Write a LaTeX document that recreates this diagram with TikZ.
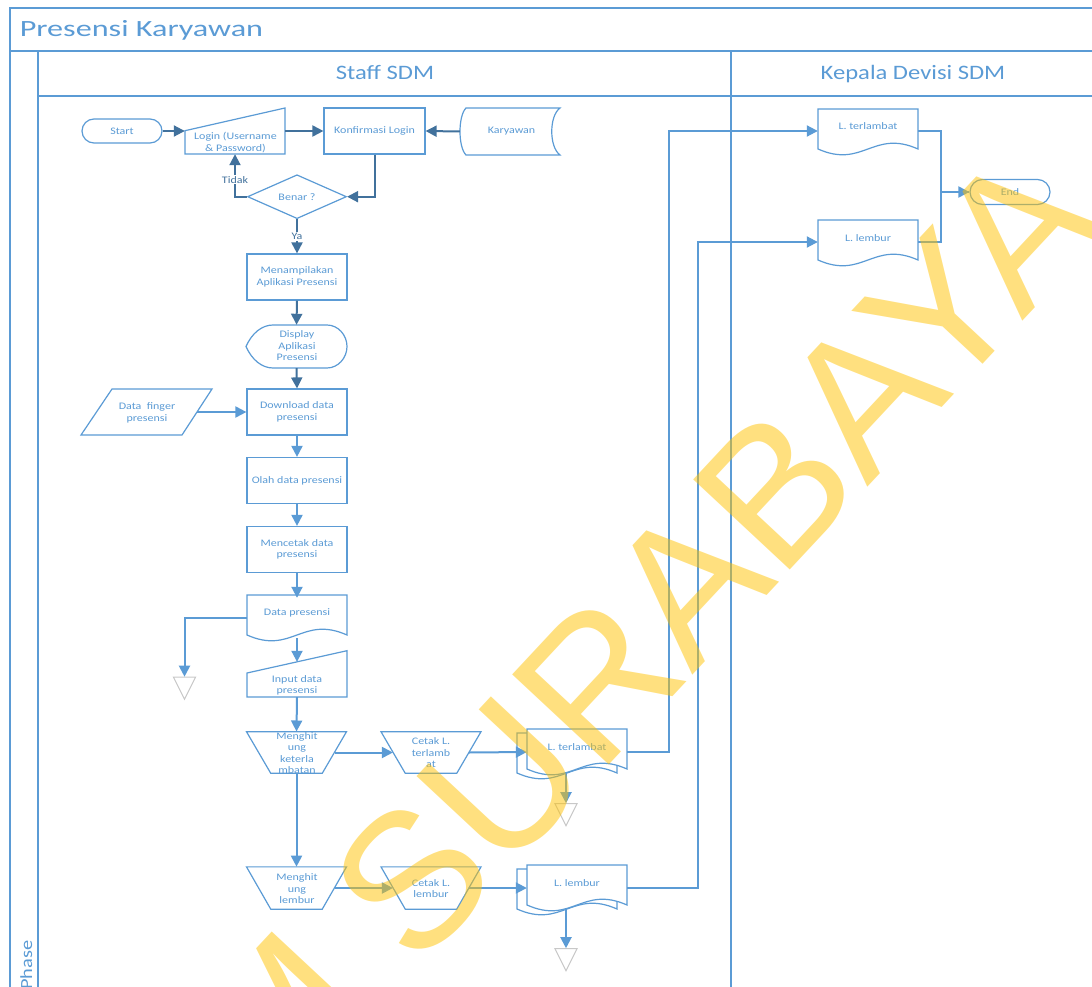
\documentclass[tikz,border=0pt]{standalone}
\usepackage{fontspec}
\setmainfont{Carlito}[FakeStretch=1.2]
\newfontfamily\ttlfont{Carlito}[FakeStretch=1.38]
\newfontfamily\wmfont{Liberation Sans}
\usetikzlibrary{arrows.meta,shapes.geometric,shapes.misc}
\definecolor{cBlue}{HTML}{5B9BD5}
\definecolor{cDark}{HTML}{41719C}
\definecolor{cGray}{HTML}{C8C8C8}
\definecolor{cWM}{RGB}{255,193,0}
\newcommand{\docshp}[4]{\draw[shp] ({#1},{#2}) -- ({#3},{#2}) -- ({#3},{#4}) .. controls ({(#3)-0.45*((#3)-(#1))},{(#4)-20}) and ({(#1)+0.45*((#3)-(#1))},{(#4)+20}) .. ({#1},{#4}) -- cycle;}
\newcommand{\mdoc}[2]{\docshp{(#1)-10}{(#2)+4}{(#1)+90}{(#2)+44}\docshp{#1}{#2}{(#1)+100}{(#2)+40}}
\newcommand{\trapshp}[3]{\draw[shp] ({(#1)-50},{(#2)-(#3)}) -- ({(#1)+50},{(#2)-(#3)}) -- ({(#1)+25.75},{(#2)+(#3)}) -- ({(#1)-25.75},{(#2)+(#3)}) -- cycle;}
\begin{document}
\begin{tikzpicture}[x=1pt,y=-1pt,
  shp/.style={draw=cBlue, line width=1.2pt, fill=white},
  box/.style={shp, rectangle, minimum width=100, minimum height=46, inner sep=1pt, text=cBlue, font=\fontsize{10}{11.5}\selectfont, align=center},
  anch/.style={rectangle, draw=none, fill=none, inner sep=0, minimum width=100, minimum height=40},
  lbl/.style={text=cBlue, font=\fontsize{10}{11.5}\selectfont, align=center, inner sep=0},
  term/.style={shp, rounded rectangle, minimum width=80, minimum height=24, inner sep=0, text=cBlue, font=\fontsize{10}{11.5}\selectfont},
  offp/.style={draw=cGray, line width=1pt, fill=white, isosceles triangle, isosceles triangle stretches, shape border rotate=-90, minimum width=22, minimum height=22, inner sep=0},
  dconn/.style={draw=cDark, line width=2pt, -{Triangle[length=11pt,width=11pt]}},
  lconn/.style={draw=cBlue, line width=2pt, -{Triangle[length=11pt,width=11pt]}},
  lanes/.style={draw=cBlue, line width=1.2pt},
  ]
\useasboundingbox (0,0) rectangle (1092,987);
\clip (0,0) rectangle (1092,987);
% frame
\draw[lanes] (1100,8) -- (10,8) -- (10,1000);
\draw[lanes] (10,51) -- (1100,51);
\draw[lanes] (38,51) -- (38,1000);
\draw[lanes] (38,96) -- (1100,96);
\draw[lanes] (731,51) -- (731,1000);
\node[anchor=base west, inner sep=0, text=cBlue, font=\ttlfont\fontsize{23.3}{24}\selectfont] (title) at (19.6,36.7) {Presensi Karyawan};
\node[anchor=base, inner sep=0, text=cBlue, font=\fontsize{20.5}{22}\selectfont] (lane1) at (385,80) {Staff SDM};
\node[anchor=base, inner sep=0, text=cBlue, font=\fontsize{20.5}{22}\selectfont] (lane2) at (913,80) {Kepala Devisi SDM};
\node[rotate=90, anchor=base west, inner sep=0, text=cBlue, font=\fontsize{17}{17}\selectfont] (phase) at (32,990) {Phase};
% custom shapes
\draw[shp] (185,130.7) -- (285,108) -- (285,154) -- (185,154) -- cycle;
\draw[shp] (466,108) -- (560,108) .. controls (549,116) and (549,147) .. (560,155) -- (466,155) .. controls (458,147) and (458,116) .. (466,108) -- cycle;
\draw[shp] (246,346.5) .. controls (252,333) and (262,325) .. (273,325) -- (327,325) .. controls (338,325) and (347,335) .. (347,346.5) .. controls (347,358) and (338,368) .. (327,368) -- (273,368) .. controls (262,368) and (252,360) .. (246,346.5) -- cycle;
\draw[shp] (81,435) -- (112,389) -- (212,389) -- (182,435) -- cycle;
\docshp{247}{595}{347}{635}
\draw[shp] (247,673) -- (347,650.7) -- (347,697) -- (247,697) -- cycle;
\mdoc{527}{729}
\mdoc{527}{865}
\docshp{818}{109}{918}{149}
\docshp{818}{220}{918}{260}
\trapshp{296.5}{752.5}{20.8}
\trapshp{431}{752.5}{20.8}
\trapshp{296.5}{888}{21.15}
\trapshp{431}{888}{21.15}
% anchor nodes
\node[anch, minimum height=46] (login) at (235,131) {};
\node[anch, minimum height=47] (kary) at (510,131.5) {};
\node[anch, minimum height=43] (disp) at (296.5,346.5) {};
\node[anch, minimum height=46] (finger) at (147,412) {};
\node[anch] (dp) at (297,618) {};
\node[anch, minimum height=35] (inp) at (297,679.5) {};
\node[anch] (lt) at (577,752) {};
\node[anch] (ll) at (577,888) {};
\node[anch] (lk) at (868,131) {};
\node[anch] (llk) at (868,242) {};
\node[anch, minimum width=75.75, minimum height=41.6] (mk) at (296.5,752.5) {};
\node[anch, minimum width=75.75, minimum height=41.6] (ck) at (431,752.5) {};
\node[anch, minimum width=75.75, minimum height=42.3] (ml) at (296.5,888) {};
\node[anch, minimum width=75.75, minimum height=42.3] (cl) at (431,888) {};
% standard nodes
\node[term] (start) at (122,131) {Start};
\node[term, minimum height=25] (end) at (1010,192) {End};
\node[box, minimum width=101] (konf) at (374.5,131) {Konfirmasi Login};
\node[shp, diamond, minimum width=99, minimum height=42, inner sep=0, text=cBlue, font=\fontsize{10}{11.5}\selectfont] (benar) at (297,196.7) {Benar ?};
\node[box] (menam) at (297,277) {Menampilakan\\Aplikasi Presensi};
\node[box] (down) at (297,412) {Download data\\presensi};
\node[box] (olah) at (297,480.5) {Olah data presensi};
\node[box] (cetak) at (297,549.5) {Mencetak data\\presensi};
\node[offp] (t1) at (184.5,684) {};
\node[offp] (t2) at (566,810.5) {};
\node[offp] (t3) at (566,955.5) {};
% texts
\node[lbl] (login-t) at (235.5,142.5) {Login (Username\\\& Password)};
\node[lbl] (kary-t) at (511.5,131) {Karyawan};
\node[lbl] (disp-t) at (297,346) {Display\\Aplikasi\\Presensi};
\node[lbl] (finger-t) at (147,413) {Data \ finger\\presensi};
\node[lbl] (dp-t) at (297,612.5) {Data presensi};
\node[lbl] (inp-t) at (297,685.5) {Input data\\presensi};
\node[lbl] (mk-t) at (297,753) {Menghit\\ung\\keterla\\mbatan};
\node[lbl] (ck-t) at (431,753) {Cetak L.\\terlamb\\at};
\node[lbl] (ml-t) at (297,889) {Menghit\\ung\\lembur};
\node[lbl] (cl-t) at (431,888.5) {Cetak L.\\lembur};
\node[lbl] (lt-t) at (577,746.7) {L. terlambat};
\node[lbl] (ll-t) at (577,882.7) {L. lembur};
\node[lbl] (lk-t) at (868,125.7) {L. terlambat};
\node[lbl] (llk-t) at (868,237.7) {L. lembur};
% connectors (dark)
\draw[dconn] (start.east) -- (login.west);
\draw[dconn] (login.east) -- (konf.west);
\draw[dconn] (kary.west) -- (konf.east);
\draw[dconn] (konf.south) |- (benar.east);
\draw[dconn] (benar.west) -| (login.south) node[pos=0.7, fill=white, inner sep=1pt, text=cDark, font=\fontsize{10}{11}\selectfont] (tidak) {Tidak};
\draw[dconn] (benar.south) -- (menam.north) node[midway, fill=white, inner sep=1pt, text=cDark, font=\fontsize{10}{11}\selectfont] (ya) {Ya};
\draw[dconn] (menam.south) -- (disp.north);
\draw[dconn] (disp.south) -- (down.north);
% connectors (light)
\draw[lconn] (finger.east) -- (down.west);
\draw[lconn] (down.south) -- (olah.north);
\draw[lconn] (olah.south) -- (cetak.north);
\draw[lconn] (cetak.south) -- (dp.north -| cetak.south);
\draw[lconn] (dp.south) -- (inp.north);
\draw[lconn] (dp.west) -| (t1.north);
\draw[lconn] (inp.south) -- (mk.north);
\draw[lconn] (mk.east) -- (ck.west);
\draw[lconn] (ck.east) -- (lt.west);
\draw[lconn] (lt.east) -- ++(42,0) |- (lk.west);
\draw[lconn] (lt.south -| t2.north) -- (t2.north);
\draw[lconn] (mk.south) -- (ml.north);
\draw[lconn] (ml.east) -- (cl.west);
\draw[lconn] (cl.east) -- (ll.west);
\draw[lconn] (ll.east) -- ++(71,0) |- (llk.west);
\draw[lconn] (ll.south -| t3.north) -- (t3.north);
\draw[lconn] (lk.east) -- ++(23,0) |- (end.west);
\draw[draw=cBlue, line width=2pt] (llk.east) -- ++(23,0) |- (end.west);
% watermark
\node[rotate=47, anchor=base west, inner sep=0, text=cWM, opacity=0.5, text opacity=0.5, font=\wmfont\fontsize{192}{192}\selectfont] (wm) at (-122.3,1549) {STIKOM SURABAYA};
\end{tikzpicture}
\end{document}
